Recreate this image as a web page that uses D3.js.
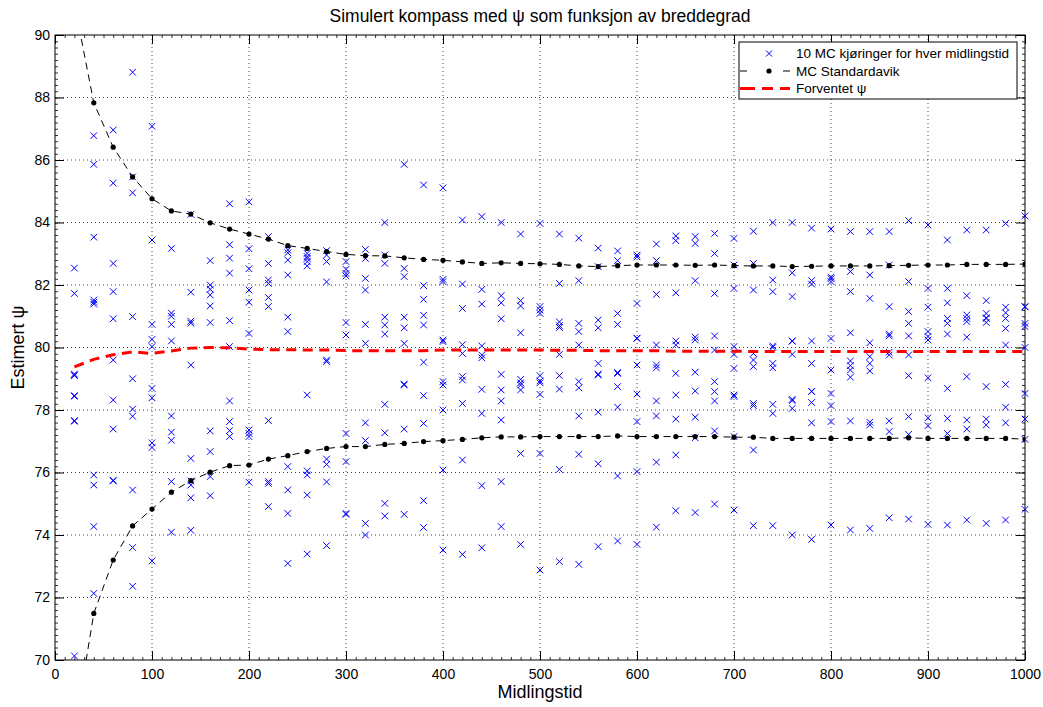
<!DOCTYPE html>
<html>
<head>
<meta charset="utf-8">
<script src="https://cdn.jsdelivr.net/npm/d3@7"></script>
<style>
  body { margin: 0; background: #fff; }
  svg { display: block; font-family: "Liberation Sans", Arial, sans-serif; }
</style>
</head>
<body>
<svg id="chart" width="1043" height="707"></svg>
<script>
// midlingstid (x) values
const midlingstid = [20, 40, 60, 80, 100, 120, 140, 160, 180, 200,
  220, 240, 260, 280, 300, 320, 340, 360, 380, 400,
  420, 440, 460, 480, 500, 520, 540, 560, 580, 600,
  620, 640, 660, 680, 700, 720, 740, 760, 780, 800,
  820, 840, 860, 880, 900, 920, 940, 960, 980, 1000];

// 10 MC runs for each midlingstid
const mcRuns = [
  [82.54, 81.73, 79.15, 79.12, 79.10, 78.46, 78.44, 77.66, 77.64, 70.13],
  [86.78, 85.86, 83.53, 81.52, 81.45, 81.39, 75.92, 75.60, 74.27, 72.13],
  [86.96, 85.26, 82.69, 81.79, 80.92, 79.60, 78.32, 77.39, 75.75, 75.73],
  [88.81, 85.46, 84.95, 80.99, 79.00, 78.03, 77.80, 75.44, 73.60, 72.36],
  [87.08, 83.44, 80.74, 80.26, 80.03, 78.69, 78.39, 76.95, 76.80, 73.17],
  [83.17, 81.10, 81.00, 80.74, 80.21, 77.81, 77.29, 77.03, 75.71, 74.09],
  [84.26, 81.77, 80.84, 80.78, 79.44, 76.45, 75.73, 75.60, 75.19, 74.15],
  [82.78, 82.00, 81.86, 81.68, 81.33, 80.80, 77.33, 76.67, 75.87, 75.26],
  [84.60, 83.29, 82.86, 82.38, 80.86, 80.03, 78.29, 77.63, 77.34, 77.15],
  [84.66, 83.16, 82.52, 81.84, 81.45, 80.45, 77.36, 77.25, 77.15, 75.69],
  [83.55, 82.69, 82.16, 82.05, 81.60, 81.31, 77.66, 75.71, 75.65, 74.91],
  [83.12, 83.03, 82.80, 82.32, 80.97, 80.51, 76.19, 75.44, 74.69, 73.09],
  [83.01, 82.91, 82.85, 82.75, 82.61, 78.48, 76.05, 75.92, 75.28, 73.39],
  [83.10, 82.96, 82.75, 82.10, 79.60, 79.55, 76.43, 76.26, 75.70, 73.66],
  [82.75, 82.50, 82.37, 82.29, 80.80, 80.40, 77.25, 76.35, 74.69, 74.66],
  [83.14, 82.85, 82.21, 81.84, 80.74, 80.13, 77.59, 77.02, 74.37, 74.00],
  [84.00, 82.96, 82.69, 80.97, 80.72, 80.43, 78.18, 77.27, 75.01, 74.61],
  [85.86, 82.53, 82.27, 80.97, 80.63, 80.13, 78.83, 78.80, 77.39, 74.66],
  [85.20, 81.98, 81.54, 81.03, 80.72, 79.53, 78.46, 77.57, 75.10, 74.24],
  [85.11, 82.18, 82.11, 80.24, 80.19, 78.91, 78.80, 78.00, 76.08, 73.52],
  [84.08, 82.03, 81.25, 80.09, 79.81, 79.07, 78.96, 78.21, 76.40, 73.38],
  [84.19, 81.86, 81.39, 80.05, 79.76, 79.67, 78.66, 77.89, 75.58, 73.59],
  [84.00, 81.66, 81.43, 80.92, 79.14, 78.64, 78.29, 77.68, 75.71, 74.27],
  [83.63, 81.50, 81.33, 80.47, 78.98, 78.87, 78.80, 78.64, 76.61, 73.70],
  [83.97, 81.31, 81.20, 81.09, 79.10, 78.93, 78.87, 78.50, 76.61, 72.88],
  [83.63, 82.05, 80.82, 80.70, 80.64, 79.78, 79.10, 78.67, 76.10, 73.15],
  [83.50, 82.14, 80.77, 80.51, 80.08, 78.91, 78.71, 77.81, 76.58, 73.06],
  [83.18, 82.59, 80.88, 80.63, 79.49, 79.15, 79.12, 77.93, 76.28, 73.63],
  [83.09, 82.78, 81.09, 80.74, 79.20, 79.17, 78.75, 78.09, 75.89, 73.81],
  [82.96, 82.90, 81.41, 80.30, 80.29, 79.44, 78.51, 77.63, 76.03, 73.70],
  [83.31, 82.78, 81.70, 80.08, 79.44, 79.35, 78.29, 77.81, 76.33, 74.25],
  [83.57, 83.42, 81.75, 80.21, 80.08, 79.17, 78.48, 77.71, 76.56, 74.78],
  [83.55, 83.33, 82.14, 80.33, 80.24, 79.21, 78.61, 77.77, 77.11, 74.72],
  [83.65, 83.01, 81.73, 80.37, 79.92, 78.91, 78.59, 78.29, 77.33, 74.99],
  [83.49, 82.64, 81.89, 80.03, 79.78, 79.33, 78.48, 78.43, 77.15, 74.80],
  [83.72, 82.69, 81.84, 79.81, 79.60, 79.39, 78.21, 78.14, 76.72, 74.30],
  [84.00, 82.16, 81.79, 80.05, 80.00, 79.49, 79.35, 78.18, 77.89, 74.30],
  [84.00, 82.39, 81.63, 80.21, 80.20, 79.78, 78.34, 78.30, 78.05, 74.00],
  [83.82, 82.14, 82.03, 80.21, 79.49, 78.60, 78.59, 78.24, 77.59, 73.86],
  [83.79, 82.25, 82.20, 82.11, 80.29, 79.28, 78.53, 78.14, 77.63, 74.32],
  [83.71, 82.43, 81.79, 80.47, 79.57, 79.42, 79.28, 79.05, 77.65, 74.16],
  [83.71, 82.32, 81.57, 80.15, 79.71, 79.49, 79.25, 77.61, 77.52, 74.21],
  [83.71, 82.64, 81.31, 80.43, 80.37, 79.85, 79.76, 77.65, 77.31, 74.55],
  [84.06, 82.11, 81.15, 80.77, 80.37, 79.76, 79.10, 77.79, 77.22, 74.51],
  [83.92, 81.89, 81.29, 80.51, 80.35, 80.24, 79.03, 77.75, 77.50, 74.34],
  [83.44, 81.89, 81.43, 80.93, 80.77, 80.43, 78.69, 77.73, 77.25, 74.32],
  [83.76, 81.66, 81.04, 80.93, 80.83, 80.33, 79.07, 77.68, 77.39, 74.48],
  [83.76, 81.50, 81.09, 80.95, 80.93, 80.80, 78.75, 77.71, 77.52, 74.37],
  [83.97, 81.29, 81.11, 80.93, 80.61, 80.08, 78.82, 78.09, 77.59, 74.48],
  [84.21, 81.31, 81.30, 80.77, 80.67, 80.00, 78.53, 77.71, 77.06, 74.82]
];

// MC standardavvik, upper and lower curve
const stdUpper = [91.00, 87.83, 86.41, 85.46, 84.76, 84.37, 84.27, 83.99, 83.79, 83.63,
  83.47, 83.26, 83.17, 83.07, 82.98, 82.94, 82.93, 82.87, 82.82, 82.79,
  82.74, 82.69, 82.71, 82.69, 82.68, 82.66, 82.61, 82.59, 82.62, 82.64,
  82.64, 82.64, 82.63, 82.64, 82.62, 82.61, 82.61, 82.59, 82.60, 82.61,
  82.61, 82.61, 82.62, 82.63, 82.64, 82.64, 82.66, 82.66, 82.66, 82.67];
const stdLower = [67.70, 71.49, 73.20, 74.29, 74.83, 75.37, 75.74, 76.01, 76.22, 76.24,
  76.43, 76.54, 76.67, 76.77, 76.83, 76.83, 76.90, 76.93, 76.99, 77.02,
  77.06, 77.11, 77.14, 77.14, 77.15, 77.15, 77.15, 77.15, 77.17, 77.15,
  77.15, 77.15, 77.15, 77.15, 77.13, 77.13, 77.09, 77.09, 77.09, 77.09,
  77.09, 77.09, 77.09, 77.11, 77.09, 77.09, 77.09, 77.09, 77.09, 77.07];

// forventet psi
const forventet = [79.38, 79.62, 79.77, 79.86, 79.81, 79.89, 79.98, 80.00, 79.99, 79.95,
  79.93, 79.93, 79.92, 79.92, 79.90, 79.90, 79.90, 79.90, 79.90, 79.92,
  79.92, 79.92, 79.92, 79.92, 79.92, 79.91, 79.91, 79.90, 79.90, 79.90,
  79.90, 79.88, 79.88, 79.88, 79.88, 79.87, 79.87, 79.87, 79.87, 79.87,
  79.87, 79.87, 79.87, 79.87, 79.87, 79.87, 79.87, 79.87, 79.87, 79.87];

const xTicks = [0, 100, 200, 300, 400, 500, 600, 700, 800, 900, 1000];
const yTicks = [70, 72, 74, 76, 78, 80, 82, 84, 86, 88, 90];

const legendLabels = ["10 MC kjøringer for hver midlingstid", "MC Standardavik", "Forventet ψ"];

const plotLeft = 55, plotRight = 1025, plotTop = 35, plotBottom = 660;

function drawChart() {
    const svg = d3.select("#chart");

    const x = d3.scaleLinear().domain([0, 1000]).range([plotLeft, plotRight]);
    const y = d3.scaleLinear().domain([70, 90]).range([plotBottom, plotTop]);

    svg.append("clipPath").attr("id", "plotClip")
      .append("rect")
      .attr("x", plotLeft).attr("y", plotTop)
      .attr("width", plotRight - plotLeft).attr("height", plotBottom - plotTop);

    // dotted grid
    const grid = svg.append("g");
    grid.selectAll(".gx")
      .data(xTicks.slice(1, -1))
      .enter().append("line")
      .attr("x1", d => x(d)).attr("x2", d => x(d))
      .attr("y1", plotTop).attr("y2", plotBottom)
      .attr("stroke", "#444")
      .attr("stroke-dasharray", "1,3");
    grid.selectAll(".gy")
      .data(yTicks.slice(1, -1))
      .enter().append("line")
      .attr("x1", plotLeft).attr("x2", plotRight)
      .attr("y1", d => y(d)).attr("y2", d => y(d))
      .attr("stroke", "#444")
      .attr("stroke-dasharray", "1,3");

    // axes, ticks pointing inwards on all four sides (matlab box)
    const xMinor = d3.range(0, 1001, 10);
    const yMinor = d3.range(70, 90.01, 0.2);

    svg.append("g")
      .attr("transform", `translate(0,${plotBottom})`)
      .call(d3.axisBottom(x).tickValues(xMinor).tickSize(-3).tickFormat(""))
      .call(g => g.select(".domain").remove())
      .selectAll("line").attr("stroke", "#333");
    svg.append("g")
      .attr("transform", `translate(0,${plotTop})`)
      .call(d3.axisTop(x).tickValues(xMinor).tickSize(-3).tickFormat(""))
      .call(g => g.select(".domain").remove())
      .selectAll("line").attr("stroke", "#333");
    svg.append("g")
      .attr("transform", `translate(${plotLeft},0)`)
      .call(d3.axisLeft(y).tickValues(yMinor).tickSize(-3).tickFormat(""))
      .call(g => g.select(".domain").remove())
      .selectAll("line").attr("stroke", "#333");
    svg.append("g")
      .attr("transform", `translate(${plotRight},0)`)
      .call(d3.axisRight(y).tickValues(yMinor).tickSize(-3).tickFormat(""))
      .call(g => g.select(".domain").remove())
      .selectAll("line").attr("stroke", "#333");

    const xAxis = svg.append("g")
      .attr("transform", `translate(0,${plotBottom})`)
      .call(d3.axisBottom(x).tickValues(xTicks).tickSize(-9).tickPadding(6).tickFormat(d3.format("d")));
    xAxis.select(".domain").remove();
    xAxis.selectAll("text").attr("font-size", "14px").attr("fill", "#000").attr("dy", "0.9em");

    svg.append("g")
      .attr("transform", `translate(0,${plotTop})`)
      .call(d3.axisTop(x).tickValues(xTicks).tickSize(-9).tickFormat(""))
      .call(g => g.select(".domain").remove());

    const yAxis = svg.append("g")
      .attr("transform", `translate(${plotLeft},0)`)
      .call(d3.axisLeft(y).tickValues(yTicks).tickSize(-9).tickPadding(5).tickFormat(d3.format("d")));
    yAxis.select(".domain").remove();
    yAxis.selectAll("text").attr("font-size", "14px").attr("fill", "#000");

    svg.append("g")
      .attr("transform", `translate(${plotRight},0)`)
      .call(d3.axisRight(y).tickValues(yTicks).tickSize(-9).tickFormat(""))
      .call(g => g.select(".domain").remove());

    // box
    svg.append("rect")
      .attr("x", plotLeft).attr("y", plotTop)
      .attr("width", plotRight - plotLeft).attr("height", plotBottom - plotTop)
      .attr("fill", "none")
      .attr("stroke", "#000")
      .attr("stroke-width", 1);

    // blue x markers, one per MC run
    const points = [];
    midlingstid.forEach((m, i) => {
        mcRuns[i].forEach(v => points.push({ m: m, v: v }));
    });
    svg.append("g").selectAll("path")
      .data(points)
      .enter().append("path")
      .attr("transform", d => `translate(${x(d.m)},${y(d.v)})`)
      .attr("d", "M-3.3,-3.3L3.3,3.3M-3.3,3.3L3.3,-3.3")
      .attr("stroke", "#0000ff")
      .attr("stroke-width", 1)
      .attr("fill", "none");

    // std curves, dashed black with dots
    const plot = svg.append("g").attr("clip-path", "url(#plotClip)");
    [stdUpper, stdLower].forEach(series => {
        const line = d3.line().x((d, i) => x(midlingstid[i])).y(d => y(d));
        plot.append("path")
          .datum(series)
          .attr("d", line)
          .attr("fill", "none")
          .attr("stroke", "#000")
          .attr("stroke-width", 1)
          .attr("stroke-dasharray", "7,5");
        plot.selectAll(null)
          .data(series)
          .enter().append("circle")
          .attr("cx", (d, i) => x(midlingstid[i]))
          .attr("cy", d => y(d))
          .attr("r", 2.6)
          .attr("fill", "#000");
    });

    // forventet psi, red dashed
    plot.append("path")
      .datum(forventet)
      .attr("d", d3.line().x((d, i) => x(midlingstid[i])).y(d => y(d)))
      .attr("fill", "none")
      .attr("stroke", "#ff0000")
      .attr("stroke-width", 3)
      .attr("stroke-dasharray", "10,6.5");

    // title and axis labels
    svg.append("text")
      .attr("x", (plotLeft + plotRight) / 2).attr("y", 22)
      .attr("text-anchor", "middle")
      .attr("font-size", "17.5px")
      .text("Simulert kompass med ψ som funksjon av breddegrad");
    svg.append("text")
      .attr("x", (plotLeft + plotRight) / 2).attr("y", 698)
      .attr("text-anchor", "middle")
      .attr("font-size", "18px")
      .text("Midlingstid");
    svg.append("text")
      .attr("transform", `translate(24,${(plotTop + plotBottom) / 2}) rotate(-90)`)
      .attr("text-anchor", "middle")
      .attr("font-size", "18px")
      .text("Estimert ψ");

    // legend
    const lg = svg.append("g");
    lg.append("rect")
      .attr("x", 739).attr("y", 42)
      .attr("width", 278).attr("height", 57)
      .attr("fill", "#fff")
      .attr("stroke", "#000");
    const rowY = [53.5, 71, 88.5];
    lg.selectAll("text")
      .data(legendLabels)
      .enter().append("text")
      .attr("x", 796)
      .attr("y", (d, i) => rowY[i])
      .attr("dy", "0.35em")
      .attr("font-size", "13.5px")
      .text(d => d);
    lg.append("path")
      .attr("transform", `translate(769,${rowY[0]})`)
      .attr("d", "M-3,-3L3,3M-3,3L3,-3")
      .attr("stroke", "#0000ff")
      .attr("fill", "none");
    lg.append("line")
      .attr("x1", 740).attr("x2", 790)
      .attr("y1", rowY[1]).attr("y2", rowY[1])
      .attr("stroke", "#000")
      .attr("stroke-dasharray", "7,36,7");
    lg.append("circle")
      .attr("cx", 769).attr("cy", rowY[1]).attr("r", 2.6)
      .attr("fill", "#000");
    lg.append("line")
      .attr("x1", 740).attr("x2", 790)
      .attr("y1", rowY[2]).attr("y2", rowY[2])
      .attr("stroke", "#ff0000")
      .attr("stroke-width", 3)
      .attr("stroke-dasharray", "15,7,11,7");
}

drawChart();
</script>
</body>
</html>
